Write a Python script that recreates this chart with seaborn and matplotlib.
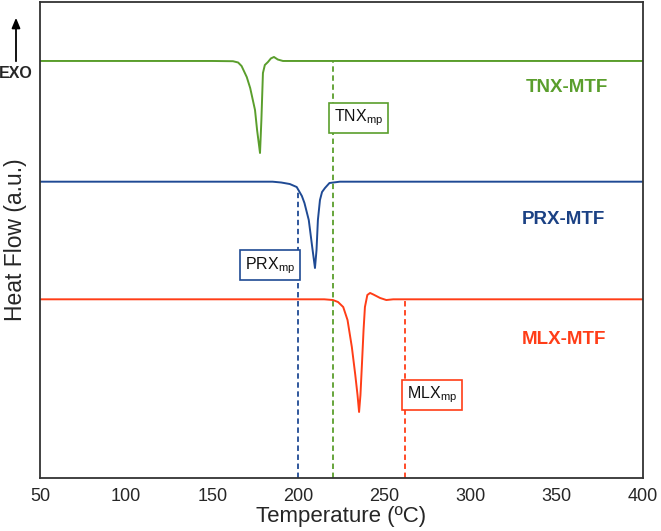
import numpy as np
import pandas as pd
import matplotlib
matplotlib.use("Agg")
import matplotlib.pyplot as plt
import seaborn as sns

# DSC curves (temperature in C, heat flow in a.u.)
t_tnx = [50, 150, 162, 165, 167, 170, 172, 174.8, 176, 177.7, 178.5, 179.4, 180.5,
         182.3, 184, 185.8, 188, 191, 200, 400]
hf_tnx = [87.61, 87.61, 87.56, 87.29, 86.55, 84.24, 81.93, 77.31, 73.11, 68.28, 75.21,
          85.08, 86.76, 87.39, 88.14, 88.45, 87.92, 87.61, 87.61, 87.61]

t_prx = [50, 185, 190, 195, 199, 202, 203.5, 206, 208, 209.6, 210.5, 211.3, 212.5,
         213.7, 215.4, 218, 224, 400]
hf_prx = [62.25, 62.25, 62.08, 61.76, 61.13, 59.24, 57.77, 54.20, 48.53, 44.12, 47.90,
          54.20, 58.40, 60.08, 60.92, 61.97, 62.25, 62.25]

t_mlx = [50, 215, 220, 223, 226, 228.5, 231, 233, 234.3, 235.2, 236, 236.9, 237.8,
         238.6, 240, 241.6, 243.5, 247.4, 251, 255, 400]
hf_mlx = [37.54, 37.54, 37.39, 36.97, 35.92, 33.19, 27.52, 21.64, 17.44, 13.87, 17.44,
          24.16, 31.09, 35.92, 38.45, 38.87, 38.55, 37.82, 37.39, 37.54, 37.54]

names = ["TNX-MTF", "PRX-MTF", "MLX-MTF"]
mp_names = ["TNX", "PRX", "MLX"]
melting_points = [220, 200, 262]
colors = ["#5a9e2c", "#1f4a94", "#ff3d17"]
text_colors = ["#5a9e2c", "#1b4184", "#ff3d17"]

sns.set_style("white")
plt.rcParams["font.family"] = ["Liberation Sans", "DejaVu Sans"]

fig = plt.figure(figsize=(6.61, 5.31), dpi=100)
ax = fig.add_axes([40 / 661, 53 / 531, 603 / 661, 476 / 531])

curves = [(t_tnx, hf_tnx), (t_prx, hf_prx), (t_mlx, hf_mlx)]
for (t, hf), c in zip(curves, colors):
    df = pd.DataFrame({"T": t, "HF": hf})
    sns.lineplot(data=df, x="T", y="HF", color=c, lw=1.4, sort=False,
                 estimator=None, ax=ax)

# melting point markers
box_pos = [(235, 75.6), (183.5, 44.7), (277.5, 17.4)]
for (t, hf), mp, c, nm, (bx, by) in zip(curves, melting_points, colors, mp_names, box_pos):
    top = np.interp(mp, t, hf)
    ax.plot([mp, mp], [0, top], color=c, lw=1.3, ls=(0, (3, 2)))
    ax.text(bx, by, nm + "$_{\\mathregular{mp}}$", ha="center", va="center",
            fontsize=11.5, color="#111111",
            bbox=dict(boxstyle="square,pad=0.3", fc="white", ec=c, lw=1.2))

# curve names
name_pos = [(356, 82.1), (354, 54.4), (354, 29.2)]
for nm, c, (x, y) in zip(names, text_colors, name_pos):
    ax.text(x, y, nm, ha="center", va="center", fontsize=13.5,
            fontweight="bold", color=c)

ax.set_xlim(50, 400)
ax.set_ylim(0, 100)
ax.set_xticks(np.arange(50, 401, 50))
ax.set_yticks([])
ax.tick_params(axis="x", length=0, pad=7, labelsize=13)
ax.set_xlabel("Temperature (ºC)", fontsize=16, labelpad=1)
ax.set_ylabel("Heat Flow (a.u.)", fontsize=16.5, labelpad=9)
for s in ax.spines.values():
    s.set_color("#333333")
    s.set_linewidth(1.3)

# EXO arrow
fig.text(16 / 661, 1 - 73 / 531, "EXO", ha="center", va="center",
         fontsize=11.5, fontweight="bold")
fig.add_artist(matplotlib.patches.FancyArrowPatch(
    (16 / 661, 1 - 64 / 531), (16 / 661, 1 - 15 / 531),
    transform=fig.transFigure, arrowstyle="-|>,head_length=6,head_width=2.5",
    color="black", lw=1.3))

plt.savefig("out.png", dpi=100)
